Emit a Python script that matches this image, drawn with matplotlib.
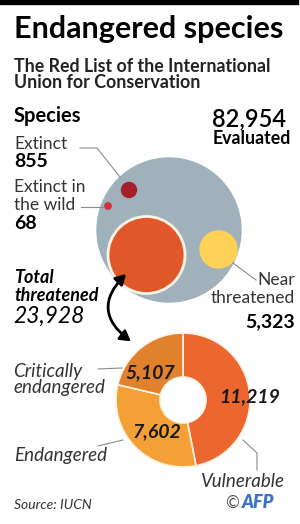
import matplotlib
matplotlib.use("Agg")
import matplotlib.pyplot as plt
from matplotlib.patches import Circle, FancyArrowPatch, Rectangle

plt.rcParams['font.family'] = ['Lato', 'DejaVu Sans']

# data
evaluated = 82954
extinct = 855
extinct_wild = 68
threatened = 23928
near_threatened = 5323
cat_names = ['Vulnerable', 'Endangered', 'Critically\nendangered']
cat_values = [11219, 7602, 5107]
cat_labels = ['11,219', '7,602', '5,107']
cat_colors = ['#EC6630', '#F4A037', '#E2812D']

fig = plt.figure(figsize=(3.0, 5.24), dpi=100)
ax = fig.add_axes([0, 0, 1, 1])
ax.set_xlim(0, 300)
ax.set_ylim(524, 0)
ax.set_aspect('equal')
ax.axis('off')

# top black bar
ax.add_patch(Rectangle((0, 0), 298, 4, color='black'))

ax.text(14, 38, 'Endangered species', fontsize=22, fontweight='bold', va='baseline')
ax.text(14, 72, 'The Red List of the International', fontsize=12.8, fontweight='bold', va='baseline', color='#222222')
ax.text(14, 88, 'Union for Conservation', fontsize=12.8, fontweight='bold', va='baseline', color='#222222')

# circles
ax.add_patch(Circle((169, 230), 72, color='#A0B1BB'))
ax.add_patch(Circle((146.5, 255), 38.5, facecolor='#E0582A', edgecolor='#FFF3E6', lw=2))
ax.add_patch(Circle((218.5, 249.5), 18.5, color='#FFD257'))
ax.add_patch(Circle((129, 190), 7.5, color='#A51F2B'))
ax.add_patch(Circle((108, 206), 3.2, color='#D63040'))

lc = '#8A8A8A'
ax.plot([80, 97, 120], [148, 148, 177], color=lc, lw=0.8)
ax.plot([81, 103], [207, 207], color=lc, lw=0.8)
ax.plot([233, 256], [263, 280], color=lc, lw=0.8)

ax.text(14, 122, 'Species', fontsize=14.5, fontweight='bold', va='baseline')
ax.text(286, 127, f'{evaluated:,}', fontsize=17, fontweight='semibold', ha='right', va='baseline')
ax.text(291, 144, 'Evaluated', fontsize=12.8, fontweight='bold', ha='right', va='baseline')
ax.text(14, 149, 'Extinct', fontsize=12.5, va='baseline', color='#333333')
ax.text(14, 167, f'{extinct:,}', fontsize=14, fontweight='bold', va='baseline')
ax.text(14, 192, 'Extinct in', fontsize=12.5, va='baseline', color='#333333')
ax.text(14, 210, 'the wild', fontsize=12.5, va='baseline', color='#333333')
ax.text(14, 229, f'{extinct_wild:,}', fontsize=14, fontweight='bold', va='baseline')
ax.text(14, 283, 'Total', fontsize=13, fontweight='bold', style='italic', va='baseline')
ax.text(14, 301, 'threatened', fontsize=13, fontweight='bold', style='italic', va='baseline')
ax.text(13, 323, f'{threatened:,}', fontsize=16.5, style='italic', va='baseline')
ax.text(295, 285, 'Near', fontsize=12.5, ha='right', va='baseline', color='#333333')
ax.text(295, 303, 'threatened', fontsize=12.5, ha='right', va='baseline', color='#333333')
ax.text(295, 327, f'{near_threatened:,}', fontsize=14, fontweight='bold', ha='right', va='baseline')

# curved double arrow
arr = FancyArrowPatch((128, 272), (133, 343), arrowstyle='<|-|>,head_length=6,head_width=3.5',
                      connectionstyle='arc3,rad=0.6', color='black', lw=2)
ax.add_patch(arr)

# donut
wedges, _ = ax.pie(cat_values, colors=cat_colors, startangle=-90, counterclock=True,
                   center=(183, 400), radius=67,
                   wedgeprops=dict(width=44, edgecolor='#FFF3E6', linewidth=1.2), frame=True)
ax.set_xlim(0, 300)
ax.set_ylim(524, 0)
ax.axis('off')

label_pos = [(250, 397), (157, 432), (150, 373)]
for (x, y), lab in zip(label_pos, cat_labels):
    ax.text(x, y, lab, fontsize=14, fontweight='bold', style='italic',
            ha='center', va='center', color='#1A1A1A')

ax.plot([98, 122], [369, 368], color=lc, lw=0.8)
ax.plot([98, 123], [446, 440], color=lc, lw=0.8)
ax.plot([243, 257, 257], [440, 453, 470], color=lc, lw=0.8)

ax.text(13, 377, 'Critically', fontsize=13.5, style='italic', va='baseline', color='#333333')
ax.text(13, 393, 'endangered', fontsize=13.5, style='italic', va='baseline', color='#333333')
ax.text(14, 461, 'Endangered', fontsize=13.5, style='italic', va='baseline', color='#333333')
ax.text(285, 487, 'Vulnerable', fontsize=13.5, style='italic', ha='right', va='baseline', color='#333333')

ax.text(14, 509, 'Source: IUCN', fontsize=10, style='italic', va='baseline', color='#333333')
ax.text(239, 508, '©', fontsize=12, ha='right', va='baseline', color='#555555')
ax.text(242, 508, 'AFP', fontsize=13, fontweight='heavy', style='italic', va='baseline', color='#3C72C4')

fig.savefig('out.png', dpi=100)
